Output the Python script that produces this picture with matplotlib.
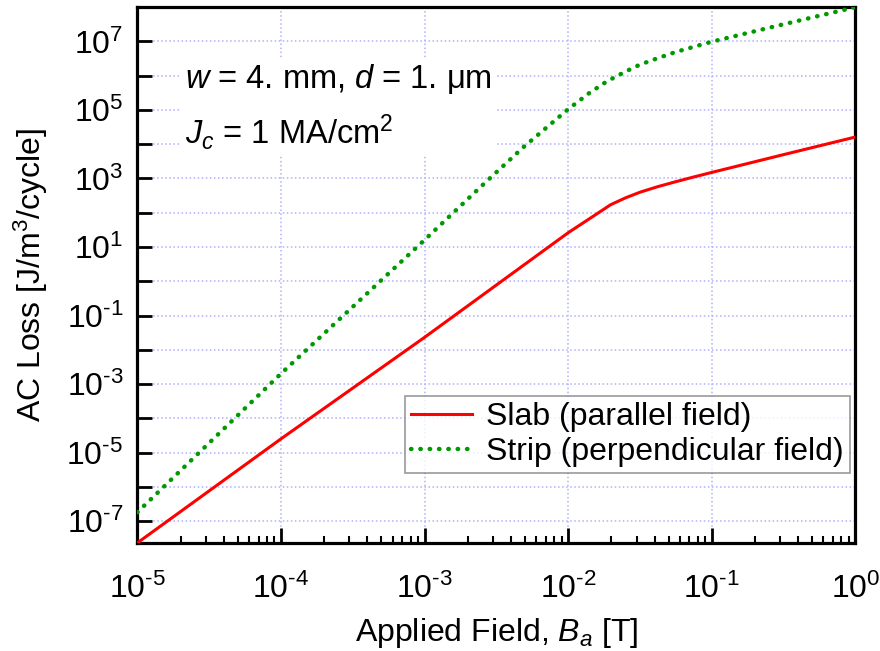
"""AC loss vs applied field: slab (parallel) and strip (perpendicular)."""
import numpy as np
import matplotlib
matplotlib.use("Agg")
import matplotlib.pyplot as plt
from matplotlib.ticker import FixedLocator, FuncFormatter, LogLocator, NullLocator

plt.rcParams["font.family"] = ["Liberation Sans", "DejaVu Sans"]
plt.rcParams["mathtext.fontset"] = "custom"
plt.rcParams["mathtext.rm"] = "Liberation Sans"
plt.rcParams["mathtext.it"] = "Liberation Sans:italic"

# values
slab_field = [1e-5, 1e-4, 1e-3, 1e-2, 1.74e-2, 1.97e-2, 2.5e-2, 3.18e-2, 4.2e-2,
              5.4e-2, 7.4e-2, 1e-1, 3.0e-1, 1.0]
slab_loss = [2.3e-8, 2.5e-5, 2.3e-2, 2.6e1, 1.2e2, 1.7e2, 2.7e2, 4.0e2, 5.75e2,
             7.7e2, 1.09e3, 1.5e3, 4.7e3, 1.62e4]

strip_field = [1e-5, 1e-4, 1e-3, 2.45e-3, 4.9e-3, 1e-2, 1.41e-2, 1.86e-2, 2.51e-2,
               3.16e-2, 4.17e-2, 5.6e-2, 1e-1, 2.7e-1, 5.0e-1, 1.0]
strip_loss = [1.8e-7, 2.0e-3, 1.6e1, 5.6e2, 8.3e3, 1.05e5, 3.16e5, 6.8e5, 1.32e6,
              2.1e6, 3.2e6, 4.9e6, 9.8e6, 2.7e7, 5.0e7, 1.0e8]

x_decades = [-5, -4, -3, -2, -1, 0]
y_decades = list(range(-7, 9))


def power_label(k):
    # plain hyphen in the exponent, as in the original
    exp = r"\text{-}" + str(-k) if k < 0 else str(k)
    return f"$10^{{{exp}}}$"


fig = plt.figure(figsize=(8.8, 6.51), dpi=100)
ax = fig.add_axes([0.156, 0.166, 0.816, 0.823])

ax.plot(slab_field, slab_loss, color="#ff0000", lw=2.2, label="Slab (parallel field)", zorder=3)
ax.plot(strip_field, strip_loss, color="#009a00", lw=3.2, ls=(0, (0.1, 2.0)),
        dash_capstyle="round", label="Strip (perpendicular field)", zorder=3)

ax.set_xscale("log"); ax.set_yscale("log")
ax.set_xlim(slab_field[0], slab_field[-1])
ax.set_ylim(slab_loss[0], strip_loss[-1])

ax.xaxis.set_major_locator(FixedLocator([10.0 ** k for k in x_decades]))
ax.xaxis.set_minor_locator(LogLocator(base=10, subs=np.arange(2, 10)))
ax.xaxis.set_major_formatter(FuncFormatter(lambda v, p: power_label(int(round(np.log10(v))))))
ax.yaxis.set_major_locator(FixedLocator([10.0 ** k for k in y_decades]))
ax.yaxis.set_minor_locator(NullLocator())


def ylab(v, p):
    k = int(round(np.log10(v)))
    return power_label(k) if k % 2 and k < 8 else ""


ax.yaxis.set_major_formatter(FuncFormatter(ylab))

ax.tick_params(which="major", direction="in", length=11, width=2, labelsize=23)
ax.tick_params(axis="x", which="major", pad=22)
ax.tick_params(axis="y", which="major", pad=10)
ax.tick_params(axis="x", which="minor", direction="in", length=5, width=1.5)
for s in ax.spines.values():
    s.set_linewidth(2.3)

ax.grid(True, which="major", color="#b0b0ff", ls=":", lw=1.1, zorder=0)

ax.text(0.066, 0.898, "$w$ = 4. mm, $d$ = 1. μm\n$J_c$ = 1 MA/cm$^2$", transform=ax.transAxes,
        fontsize=23.5, va="top", ha="left", linespacing=1.5,
        bbox=dict(facecolor="white", edgecolor="none", pad=3), zorder=2)

ax.set_xlabel("Applied Field, $B_a$ [T]", fontsize=23, labelpad=8)
ax.set_ylabel("AC Loss [J/m$^3$/cycle]", fontsize=23, labelpad=12)

leg = ax.legend(loc="lower right", bbox_to_anchor=(0.993, 0.13), fontsize=23, frameon=True,
                fancybox=False, edgecolor="#808080", handlelength=1.9, handletextpad=0.45,
                borderpad=0.2, labelspacing=0.15, borderaxespad=0.0)
leg.get_frame().set_linewidth(1.2)

fig.savefig("out.png", dpi=100)
